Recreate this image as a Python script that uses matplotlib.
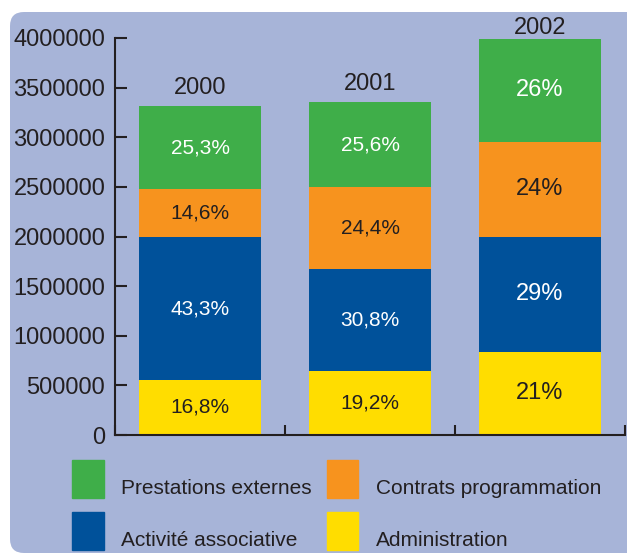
import numpy as np
import matplotlib
matplotlib.use('Agg')
import matplotlib.pyplot as plt
from matplotlib.patches import FancyBboxPatch, Patch, Rectangle
from matplotlib.legend_handler import HandlerPatch
from matplotlib.transforms import IdentityTransform

plt.rcParams['font.family'] = ['Liberation Sans', 'DejaVu Sans']

# data
years = ['2000', '2001', '2002']
series = ['Administration', 'Activité associative', 'Contrats programmation', 'Prestations externes']
administration = [557000, 644000, 838000]
activite = [1435000, 1033000, 1157000]
contrats = [484000, 819000, 958000]
prestations = [839000, 859000, 1037000]
labels_admin = ['16,8%', '19,2%', '21%']
labels_activite = ['43,3%', '30,8%', '29%']
labels_contrats = ['14,6%', '24,4%', '24%']
labels_prestations = ['25,3%', '25,6%', '26%']
yticks = [0, 500000, 1000000, 1500000, 2000000, 2500000, 3000000, 3500000, 4000000]

c_green = '#3FAE49'
c_orange = '#F7931E'
c_blue = '#00519A'
c_yellow = '#FFDD00'
c_bg = '#A7B4D8'
c_txt = '#231F20'

fig = plt.figure(figsize=(6.27, 5.57), dpi=100)
fig.patch.set_facecolor('white')

# rounded background panel (pixel coords)
panel = FancyBboxPatch((10, 4), 660, 541, boxstyle='round,pad=0,rounding_size=14',
                       transform=IdentityTransform(), facecolor=c_bg, edgecolor='none', zorder=0)
fig.add_artist(panel)

ax = fig.add_axes([115 / 627, 122 / 557, 510 / 627, 397 / 557])
ax.set_facecolor('none')

x = np.arange(len(years))
w = 0.72
b1 = ax.bar(x, administration, w, color=c_yellow, label='Administration')
bottom = np.array(administration)
b2 = ax.bar(x, activite, w, bottom=bottom, color=c_blue, label='Activité associative')
bottom = bottom + np.array(activite)
b3 = ax.bar(x, contrats, w, bottom=bottom, color=c_orange, label='Contrats programmation')
bottom = bottom + np.array(contrats)
b4 = ax.bar(x, prestations, w, bottom=bottom, color=c_green, label='Prestations externes')
tops = bottom + np.array(prestations)

fs = 15
all_labels = []
all_labels += ax.bar_label(b1, labels=labels_admin, label_type='center', fontsize=fs, color=c_txt)
all_labels += ax.bar_label(b2, labels=labels_activite, label_type='center', fontsize=fs, color='white')
all_labels += ax.bar_label(b3, labels=labels_contrats, label_type='center', fontsize=fs, color=c_txt)
all_labels += ax.bar_label(b4, labels=labels_prestations, label_type='center', fontsize=fs, color='white')
# 2002 labels are printed a bit larger
for k in range(2, len(all_labels), 3):
    all_labels[k].set_fontsize(17)

offsets = [18, 18, 11]
for i, yr in enumerate(years):
    ax.annotate(yr, (x[i], tops[i]), xytext=(0, offsets[i] / 1.389), textcoords='offset points',
                ha='center', va='center', fontsize=17, color=c_txt, annotation_clip=False)

ax.set_xlim(-0.5, 2.5)
ax.set_ylim(0, 4000000)
ax.set_yticks(yticks)
ax.set_yticklabels([str(v) for v in yticks])
ax.set_xticks([-0.5, 0.5, 1.5, 2.5])
ax.set_xticklabels([])
ax.tick_params(axis='y', direction='in', length=8.5, width=1.5, colors=c_txt, labelsize=17, pad=7)
ax.tick_params(axis='x', direction='in', length=7, width=1.5, colors=c_txt)
for s in ['top', 'right']:
    ax.spines[s].set_visible(False)
for s in ['left', 'bottom']:
    ax.spines[s].set_color(c_txt)
    ax.spines[s].set_linewidth(1.5)


def square(legend, orig_handle, xdescent, ydescent, width, height, fontsize):
    # tall square sitting a little above the label's baseline
    return Rectangle((-xdescent, -2.5), width, 27.4)


handles = [Patch(color=c_green), Patch(color=c_blue), Patch(color=c_orange), Patch(color=c_yellow)]
names = ['Prestations externes', 'Activité associative', 'Contrats programmation', 'Administration']
leg = fig.legend(handles, names, loc='upper left', bbox_to_anchor=(72 / 627, 79 / 557), ncol=2,
                 frameon=False, fontsize=15, handlelength=1.53, handleheight=1.0,
                 handletextpad=0.82, columnspacing=0.72, labelspacing=1.51,
                 borderpad=0, borderaxespad=0,
                 handler_map={Patch: HandlerPatch(patch_func=square)})
for t in leg.get_texts():
    t.set_color(c_txt)

fig.savefig('out.png', dpi=100)
